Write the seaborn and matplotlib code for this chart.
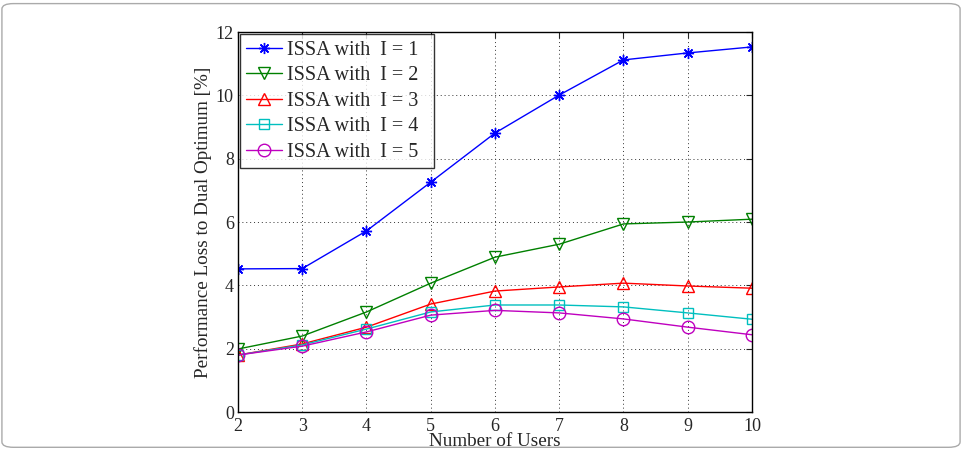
import matplotlib
matplotlib.use('Agg')
import matplotlib.pyplot as plt
from matplotlib.patches import FancyBboxPatch
import numpy as np
import pandas as pd
import seaborn as sns

# data
users = [2, 3, 4, 5, 6, 7, 8, 9, 10]
loss_i1 = [4.52, 4.53, 5.72, 7.26, 8.81, 10.01, 11.12, 11.34, 11.53]
loss_i2 = [1.99, 2.40, 3.16, 4.07, 4.89, 5.30, 5.94, 6.00, 6.09]
loss_i3 = [1.80, 2.15, 2.68, 3.41, 3.82, 3.95, 4.07, 3.98, 3.91]
loss_i4 = [1.80, 2.12, 2.62, 3.16, 3.38, 3.38, 3.32, 3.13, 2.93]
loss_i5 = [1.80, 2.08, 2.53, 3.06, 3.21, 3.13, 2.94, 2.68, 2.44]
labels = ['ISSA with  I = 1', 'ISSA with  I = 2', 'ISSA with  I = 3',
          'ISSA with  I = 4', 'ISSA with  I = 5']

series = [loss_i1, loss_i2, loss_i3, loss_i4, loss_i5]
colors = ['#0000ff', '#008000', '#ff0000', '#00bfbf', '#bf00bf']
markers = [(8, 2, 0), 'v', '^', 's', 'o']
msizes = [8, 9, 9, 7, 9]

sns.set_style('white')
plt.rcParams['font.family'] = ['Liberation Serif', 'DejaVu Serif']
plt.rcParams['mathtext.fontset'] = 'stix'

fig = plt.figure(figsize=(9.62, 4.5), dpi=100)
ax = fig.add_axes([0.2474, 0.0844, 0.5343, 0.8444])

for vals, lab, c, m, ms in zip(series, labels, colors, markers, msizes):
    df = pd.DataFrame({'users': users, 'loss': vals})
    # trailing spaces widen the legend box like the original
    sns.lineplot(data=df, x='users', y='loss', ax=ax, color=c, label=lab + '  ',
                 marker=m, markersize=ms, markerfacecolor='none',
                 markeredgecolor=c, markeredgewidth=1.0, linewidth=1.0)

ax.set_xlim(2, 10)
ax.set_ylim(0, 12)
ax.set_xticks(users)
ax.set_yticks([0, 2, 4, 6, 8, 10, 12])
ax.tick_params(direction='in', top=True, right=True, length=4, labelsize=13,
               pad=3)
ax.tick_params(axis='x', pad=4)
ax.grid(True, linestyle=(0, (1, 3)), color='#333333', linewidth=0.7)
for s in ax.spines.values():
    s.set_color('black')
    s.set_linewidth(1.0)
ax.set_xlabel('Number of Users', fontsize=13.8, labelpad=-1)
ax.set_ylabel('Performance Loss to Dual Optimum [%]', fontsize=13.8, labelpad=3)

leg = ax.legend(loc='upper left', fontsize=14.5, frameon=True, fancybox=False,
                borderaxespad=0.12, handlelength=1.75, handletextpad=0.25,
                labelspacing=0.32, borderpad=0.3)
leg.get_frame().set_edgecolor('black')
leg.get_frame().set_linewidth(1.0)

# rounded frame around the whole figure
border = FancyBboxPatch((0.002, 0.006), 0.996, 0.986,
                        boxstyle='round,pad=0,rounding_size=0.012',
                        transform=fig.transFigure, fill=False,
                        edgecolor='#aaaaaa', linewidth=1.0)
fig.patches.append(border)

fig.savefig('out.png', dpi=100)
